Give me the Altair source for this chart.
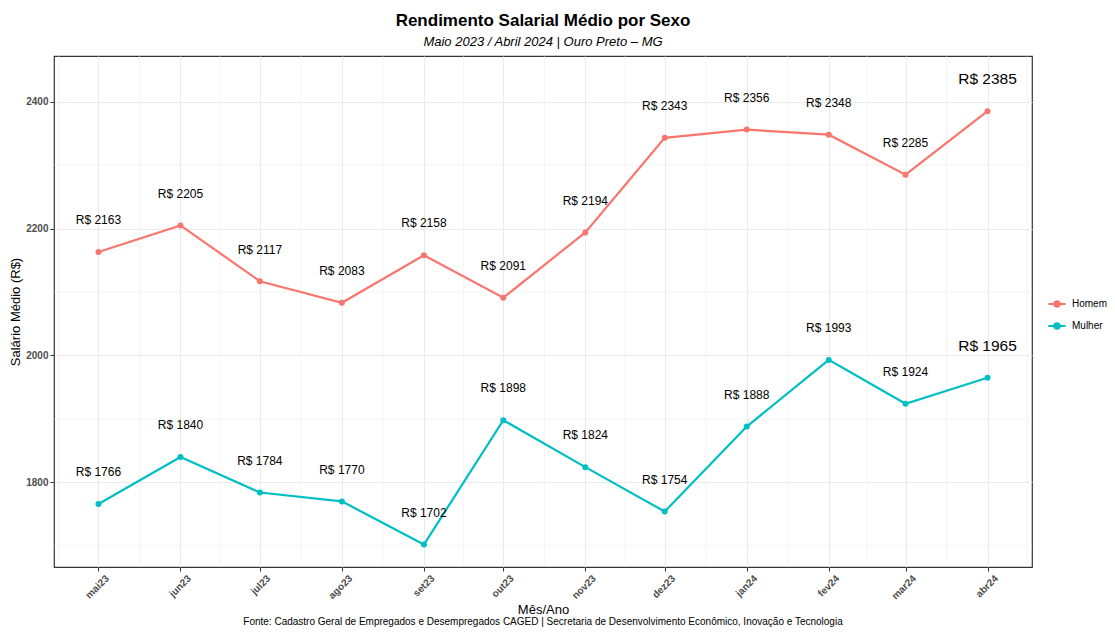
import altair as alt
import pandas as pd

# ---- data ----
meses = ["2023-05-01", "2023-06-01", "2023-07-01", "2023-08-01", "2023-09-01", "2023-10-01",
         "2023-11-01", "2023-12-01", "2024-01-01", "2024-02-01", "2024-03-01", "2024-04-01"]
homem = [2163, 2205, 2117, 2083, 2158, 2091, 2194, 2343, 2356, 2348, 2285, 2385]
mulher = [1766, 1840, 1784, 1770, 1702, 1898, 1824, 1754, 1888, 1993, 1924, 1965]
sexos = ["Homem", "Mulher"]
cores = ["#F8766D", "#00BFC4"]
nomes_meses = ["jan", "fev", "mar", "abr", "mai", "jun", "jul", "ago", "set", "out", "nov", "dez"]
y_major = [1800, 2000, 2200, 2400]
y_minor = [1700, 1900, 2100, 2300]
y_dominio = [1666.6, 2472]

# ---- tables ----
df = pd.DataFrame({
    "data": meses * 2,
    "sexo": ["Homem"] * len(meses) + ["Mulher"] * len(meses),
    "valor": homem + mulher,
})
df["rotulo"] = "R$ " + df["valor"].astype(str)
df["ultimo"] = df["data"] == meses[-1]

def ms(s):
    return int(pd.Timestamp(s, tz="UTC").value // 10**6)

major_ms = [ms(m) for m in meses]
ext = ["2023-04-01"] + meses + ["2024-05-01"]
minor_ms = [(ms(a) + ms(b)) // 2 for a, b in zip(ext[:-1], ext[1:])]
span = major_ms[-1] - major_ms[0]
x_dominio = [major_ms[0] - 0.05 * span, major_ms[-1] + 0.05 * span]
minor_ms = [v for v in minor_ms if x_dominio[0] <= v <= x_dominio[1]]

FONT = "Liberation Sans"
GRID = "#EBEBEB"

xscale = alt.Scale(type="utc", domain=x_dominio, nice=False)
yscale = alt.Scale(domain=y_dominio, nice=False, zero=False)

label_expr = ("['" + "','".join(nomes_meses) + "'][utcmonth(datum.value)]"
              " + utcFormat(datum.value, '%y')")

xaxis = alt.Axis(values=major_ms, labelExpr=label_expr, grid=True, gridColor=GRID, gridWidth=1.1,
                 tickColor="#333333", tickSize=4, tickWidth=1, domain=False,
                 labelAngle=-45, labelAlign="right", labelBaseline="top", labelPadding=2,
                 labelOffset=5,
                 labelFont=FONT, labelFontSize=10, labelFontWeight="bold", labelColor="#4D4D4D",
                 title="Mês/Ano", titleFont=FONT, titleFontSize=13, titleFontWeight="normal",
                 titleColor="black", titlePadding=3)
yaxis = alt.Axis(values=y_major, format="d", grid=True, gridColor=GRID, gridWidth=1.1,
                 tickColor="#333333", tickSize=4, tickWidth=1, domain=False, labelPadding=2,
                 labelFont=FONT, labelFontSize=10, labelFontWeight="bold", labelColor="#4D4D4D",
                 title="Salário Médio (R$)", titleFont=FONT, titleFontSize=13,
                 titleFontWeight="normal", titleColor="black", titlePadding=3)

def X(field):
    return alt.X(field, type="temporal", scale=xscale, axis=xaxis)

def Y(field):
    return alt.Y(field, type="quantitative", scale=yscale, axis=yaxis)

simbolo = "M-1,0H1M-0.32,0A0.32,0.32 0 1,0 0.32,0A0.32,0.32 0 1,0 -0.32,0Z"
color = alt.Color("sexo:N", scale=alt.Scale(domain=sexos, range=cores),
                  legend=alt.Legend(title=None, orient="none", legendX=993, legendY=238,
                                    labelFont=FONT, labelFontSize=10, labelColor="black",
                                    symbolType=simbolo, symbolSize=300, symbolStrokeWidth=2.2,
                                    rowPadding=4, labelOffset=5))

minor_y = alt.Chart(pd.DataFrame({"v": y_minor})).mark_rule(color=GRID, strokeWidth=0.55).encode(y=Y("v"))
minor_x = alt.Chart(pd.DataFrame({"t": minor_ms})).mark_rule(color=GRID, strokeWidth=0.55).encode(x=X("t"))

base = alt.Chart(df)
linhas = base.mark_line(strokeWidth=2.2).encode(x=X("data"), y=Y("valor"), color=color)
pontos = base.mark_circle(size=36, opacity=1).encode(
    x=X("data"), y=Y("valor"),
    color=alt.Color("sexo:N", scale=alt.Scale(domain=sexos, range=cores), legend=None))
textos = base.transform_filter("!datum.ultimo").transform_calculate(ly="datum.valor + 50").mark_text(
    font=FONT, fontSize=12, color="black", baseline="middle").encode(x=X("data"), y=Y("ly:Q"), text="rotulo")
textos_fim = base.transform_filter("datum.ultimo").transform_calculate(ly="datum.valor + 50").mark_text(
    font=FONT, fontSize=15.5, color="black", baseline="middle").encode(x=X("data"), y=Y("ly:Q"), text="rotulo")

fonte = alt.Chart(pd.DataFrame({"t": ["Fonte: Cadastro Geral de Empregados e Desempregados CAGED | Secretaria de Desenvolvimento Econômico, Inovação e Tecnologia"]})).mark_text(
    font=FONT, fontSize=10, color="black", baseline="alphabetic", align="center").encode(
    x=alt.value(489), y=alt.value(569), text="t")

chart = alt.layer(minor_y, minor_x, linhas, pontos, textos, textos_fim, fonte).properties(
    width=978, height=511,
    title=alt.TitleParams(text="Rendimento Salarial Médio por Sexo",
                          subtitle="Maio 2023 / Abril 2024 | Ouro Preto – MG",
                          font=FONT, fontSize=17, fontWeight="bold", color="black",
                          subtitleFont=FONT, subtitleFontSize=13, subtitleFontStyle="italic",
                          subtitleColor="black", anchor="middle", offset=6, subtitlePadding=6),
    autosize=alt.AutoSizeParams(type="none"),
    padding={"left": 46, "top": 48, "right": 75, "bottom": 60},
    view=alt.ViewBackground(stroke="#333333", strokeWidth=1.2, fill="white"),
).configure_view(stroke="#333333", strokeWidth=1.2).configure(background="white")

chart.save("out.html", embed_options={"renderer": "svg", "actions": False})
